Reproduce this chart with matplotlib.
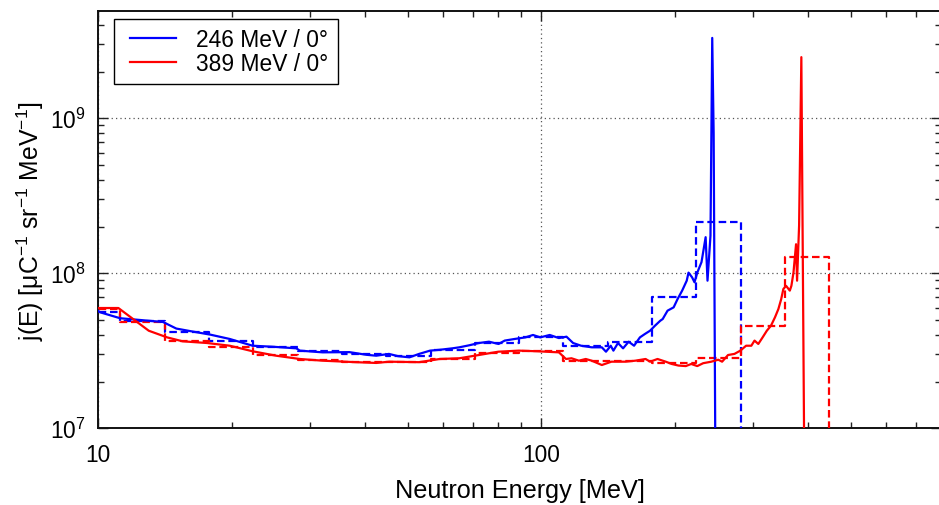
import matplotlib
matplotlib.use("Agg")
import matplotlib.pyplot as plt
from matplotlib.ticker import LogLocator, NullFormatter, FuncFormatter
from matplotlib.legend_handler import HandlerLine2D

plt.rcParams['font.family'] = ['Liberation Sans', 'DejaVu Sans']
plt.rcParams['mathtext.fontset'] = 'custom'
plt.rcParams['mathtext.rm'] = 'Liberation Sans'
plt.rcParams['mathtext.it'] = 'Liberation Sans:italic'
plt.rcParams['mathtext.bf'] = 'Liberation Sans:bold'
plt.rcParams['mathtext.default'] = 'regular'

# ---------------- data ----------------
blue_label = "246 MeV / 0°"
red_label = "389 MeV / 0°"

blue_E = [10.0, 10.1, 11.2, 12.4, 14.0, 15.0, 16.1, 17.9, 19.8, 22.3, 24.7, 28.0, 28.5,
          32.1, 36.9, 40.3, 42.4, 45.3, 47.5, 50.4, 53.0, 56.1, 59.0, 63.0, 65.3, 68.7,
          72.3, 76.2, 80.1, 82.7, 87.1, 92.1, 95.8, 99.5, 104.5, 109.6, 114.0, 118.0,
          123.0, 130.0, 137.0, 140.0, 143.5, 145.5, 149.0, 153.0, 157.5, 162.0, 167.0,
          171.4, 176.0, 180.6, 185.6, 188.0, 192.8, 199.0, 203.0, 208.0, 213.0, 215.0,
          219.0, 221.8, 225.0, 230.0, 235.0, 237.3, 241.0, 243.2, 245.0, 247.3]
blue_j = [5.71e7, 5.6e7, 5.13e7, 5.0e7, 4.85e7, 4.4e7, 4.24e7, 4.02e7, 3.77e7, 3.41e7,
          3.36e7, 3.28e7, 3.17e7, 3.09e7, 3.1e7, 2.98e7, 2.94e7, 3.02e7, 2.92e7, 2.87e7,
          3.02e7, 3.17e7, 3.21e7, 3.28e7, 3.33e7, 3.43e7, 3.55e7, 3.62e7, 3.5e7, 3.68e7,
          3.77e7, 3.86e7, 4.0e7, 3.86e7, 4.0e7, 3.82e7, 3.9e7, 3.55e7, 3.41e7, 3.33e7,
          3.33e7, 3.12e7, 3.41e7, 3.17e7, 3.55e7, 3.28e7, 3.62e7, 3.41e7, 3.86e7, 4.06e7,
          4.26e7, 4.59e7, 4.94e7, 5.07e7, 5.74e7, 6.03e7, 6.8e7, 7.73e7, 8.96e7, 1.01e8,
          9.42e7, 8.75e7, 1.01e8, 1.18e8, 1.71e8, 8.96e7, 1.75e8, 3.3e9, 8.0e8, 5e6]

red_E = [10.0, 11.1, 13.0, 14.3, 15.5, 17.6, 19.8, 22.3, 25.2, 28.5, 32.1, 38.2, 42.4,
         45.4, 53.0, 59.0, 65.3, 72.3, 80.0, 89.0, 98.0, 109.6, 113.7, 117.0, 121.6,
         126.0, 130.0, 137.0, 144.0, 155.0, 163.0, 172.0, 176.0, 183.0, 191.0, 197.0,
         204.0, 212.0, 218.0, 225.0, 232.0, 242.0, 251.0, 256.0, 264.0, 273.0, 281.5,
         290.0, 298.0, 303.0, 309.0, 316.0, 323.0, 330.0, 337.0, 343.0, 348.0, 352.0,
         357.0, 364.0, 367.0, 371.0, 376.0, 378.0, 382.0, 386.5, 392.6]
red_j = [5.97e7, 5.97e7, 4.26e7, 3.86e7, 3.64e7, 3.55e7, 3.41e7, 3.14e7, 2.94e7, 2.8e7,
         2.73e7, 2.67e7, 2.64e7, 2.69e7, 2.67e7, 2.8e7, 2.83e7, 2.97e7, 3.12e7, 3.17e7,
         3.14e7, 3.09e7, 2.8e7, 2.83e7, 2.73e7, 2.8e7, 2.73e7, 2.56e7, 2.69e7, 2.69e7,
         2.73e7, 2.8e7, 2.69e7, 2.8e7, 2.69e7, 2.6e7, 2.54e7, 2.52e7, 2.6e7, 2.52e7,
         2.63e7, 2.69e7, 2.77e7, 2.69e7, 2.97e7, 3.02e7, 3.17e7, 3.41e7, 3.41e7, 3.68e7,
         3.5e7, 3.86e7, 4.26e7, 4.59e7, 5.2e7, 5.88e7, 6.8e7, 7.92e7, 8.3e7, 7.73e7,
         8.3e7, 1.01e8, 1.54e8, 8.96e7, 2.03e8, 2.48e9, 5e6]

# binned (histogram) spectra: bin edges and values
bin_edges = [8.91, 11.22, 14.13, 17.78, 22.39, 28.18, 35.48, 44.67, 56.23, 70.79, 89.13,
             112.2, 141.3, 177.8, 223.9, 281.8, 354.8, 446.7]
blue_bins = [5.65e7, 4.94e7, 4.16e7, 3.64e7, 3.33e7, 3.14e7, 3.0e7, 2.92e7, 3.21e7,
             3.55e7, 3.86e7, 3.41e7, 3.62e7, 7.0e7, 2.13e8]
red_bins = [5.9e7, 4.83e7, 3.64e7, 3.33e7, 2.98e7, 2.77e7, 2.69e7, 2.69e7, 2.8e7,
            3.06e7, 3.14e7, 2.73e7, 2.73e7, 2.63e7, 2.83e7, 4.59e7, 1.27e8]

xlabel = "Neutron Energy [MeV]"
ylabel = r"j(E) [μC$^{-1}$ sr$^{-1}$ MeV$^{-1}$]"

# ---------------- plot ----------------
fig = plt.figure(figsize=(9.39, 5.06), dpi=100)
ax = fig.add_axes([98.3 / 939, 76.7 / 506, 843.0 / 939, 417.0 / 506])

lw = 1.6
dash = (0, (3.4, 1.7))


def step_xy(edges, vals):
    n = len(vals)
    xs = list(edges[:n + 1])
    ys = list(vals) + [vals[-1]]
    xs.append(edges[n])
    ys.append(1e5)
    return xs, ys


bx, by = step_xy(bin_edges, blue_bins)
rx, ry = step_xy(bin_edges, red_bins)

ax.plot(bx, by, color='#0000ff', lw=lw, linestyle=dash, drawstyle='steps-post', zorder=3)
ax.plot(rx, ry, color='#ff0000', lw=lw, linestyle=dash, drawstyle='steps-post', zorder=3)
ax.plot(blue_E, blue_j, color='#0000ff', lw=lw, label=blue_label, zorder=4)
ax.plot(red_E, red_j, color='#ff0000', lw=lw, label=red_label, zorder=4)

ax.set_xscale('log')
ax.set_yscale('log')
ax.set_xlim(10, 800)
ax.set_ylim(1e7, 4.9e9)

ax.xaxis.set_major_locator(LogLocator(base=10, numticks=10))
ax.xaxis.set_major_formatter(FuncFormatter(lambda v, p: f"{v:g}"))
ax.xaxis.set_minor_locator(LogLocator(base=10, subs=range(2, 10), numticks=20))
ax.xaxis.set_minor_formatter(NullFormatter())
ax.yaxis.set_minor_locator(LogLocator(base=10, subs=range(2, 10), numticks=20))
ax.yaxis.set_minor_formatter(NullFormatter())

ax.grid(True, which='major', linestyle=(0, (1, 2.5)), color='#555555', lw=0.9)
ax.tick_params(which='both', direction='in', top=True, right=True, width=1.0,
               color='#222222')
ax.tick_params(which='major', length=7, labelsize=16.4)
ax.tick_params(axis='x', which='major', pad=10.5)
ax.tick_params(axis='y', which='major', pad=9)
ax.tick_params(which='minor', length=4)
for s in ax.spines.values():
    s.set_linewidth(1.4)
    s.set_color('#111111')

ax.set_xlabel(xlabel, fontsize=18.2, labelpad=8.5)
ax.set_ylabel(ylabel, fontsize=17.8, labelpad=3)


class LeadHandler(HandlerLine2D):
    """Line handle drawn over the right part of the handle box."""

    def __init__(self, lead=0.16, **kw):
        super().__init__(**kw)
        self.lead = lead

    def get_xdata(self, legend, xdescent, ydescent, width, height, fontsize):
        xd, xdm = super().get_xdata(legend, xdescent, ydescent, width, height, fontsize)
        x0, x1 = xd[0], xd[-1]
        return [x0 + self.lead * (x1 - x0), x1], xdm


handles, labels = ax.get_legend_handles_labels()
hm = {h: LeadHandler(lead=0.14) for h in handles}
leg = ax.legend(handles, labels, handler_map=hm, loc='upper left',
                bbox_to_anchor=(0.0183, 0.9815), fontsize=16.4,
                frameon=True, fancybox=False, edgecolor='black', framealpha=1,
                handlelength=2.35, handletextpad=0.88, labelspacing=0.05,
                borderpad=0.4, borderaxespad=0.0)
leg.get_frame().set_linewidth(1.0)

fig.savefig("out.png", dpi=100)
